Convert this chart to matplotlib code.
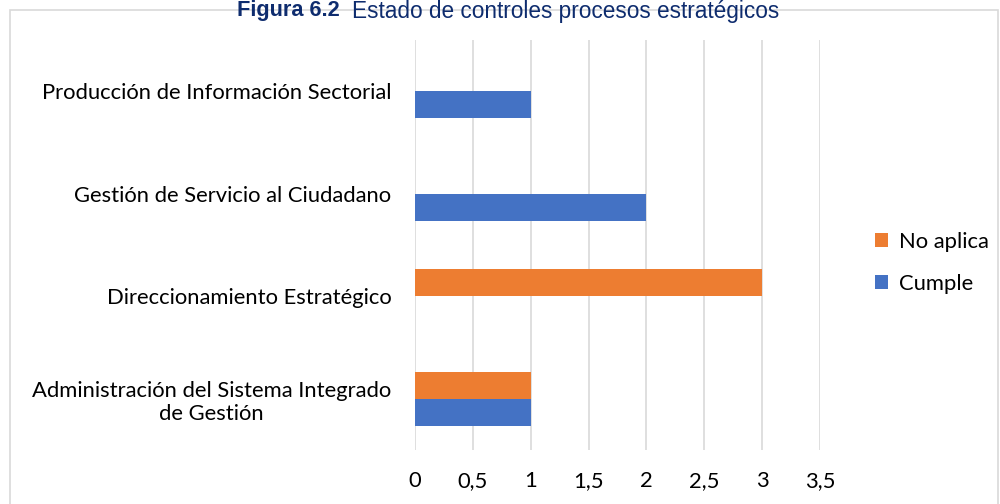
import matplotlib
matplotlib.use("Agg")
import matplotlib.pyplot as plt
from matplotlib.patches import Rectangle
import numpy as np

categories = ["Administración del Sistema Integrado\nde Gestión",
              "Direccionamiento Estratégico",
              "Gestión de Servicio al Ciudadano",
              "Producción de Información Sectorial"]
cumple = [1, 0, 2, 1]
no_aplica = [1, 3, 0, 0]
xticks = [0, 0.5, 1, 1.5, 2, 2.5, 3, 3.5]
xtick_labels = ["0", "0,5", "1", "1,5", "2", "2,5", "3", "3,5"]

blue = "#4472C4"
orange = "#ED7D31"
font = "Lato"
fs = 15.8

fig = plt.figure(figsize=(10, 5.04), dpi=100)
ax = fig.add_axes([0.415, 0.107, 0.405, 0.814])

y = np.arange(len(categories))
h = 0.263
bc = ax.barh(y - h/2, cumple, height=h, color=blue, label="Cumple")
bn = ax.barh(y + h/2, no_aplica, height=h, color=orange, label="No aplica")

ax.set_xlim(0, 3.5)
ax.set_ylim(-0.5, 3.5)
ax.set_xticks(xticks)
ax.set_xticklabels(xtick_labels, fontfamily=font, fontsize=fs)
ax.set_yticks(y)
ax.set_yticklabels(categories, fontfamily=font, fontsize=fs, ha="right",
                   multialignment="center", linespacing=1.2)
ax.tick_params(axis="both", length=0)
ax.tick_params(axis="y", pad=17)
ax.tick_params(axis="x", pad=15)
for s in ax.spines.values():
    s.set_visible(False)
ax.grid(axis="x", color="#d9d9d9", linewidth=1.2)
ax.set_axisbelow(True)

leg = fig.legend(handles=[bn, bc], labels=["No aplica", "Cumple"], loc="center left",
                 bbox_to_anchor=(0.855, 0.478), frameon=False,
                 prop={"family": font, "size": fs}, handlelength=0.6, handleheight=0.6,
                 handletextpad=0.5, labelspacing=1.0)

fig.patches.append(Rectangle((0.010, -0.05), 0.988, 1.03, transform=fig.transFigure,
                             fill=False, edgecolor="#d9d9d9", linewidth=1.2, zorder=0))

fig.text(0.237, 1.0, "Figura 6.2", fontfamily="Liberation Sans", fontweight="bold",
         fontsize=15.7, color="#0E2C6E", ha="left", va="top")
fig.text(0.352, 1.0, "Estado de controles procesos estratégicos", fontfamily="Liberation Sans",
         fontsize=16.3, color="#0E2C6E", ha="left", va="top")

fig.savefig("out.png", dpi=100)
